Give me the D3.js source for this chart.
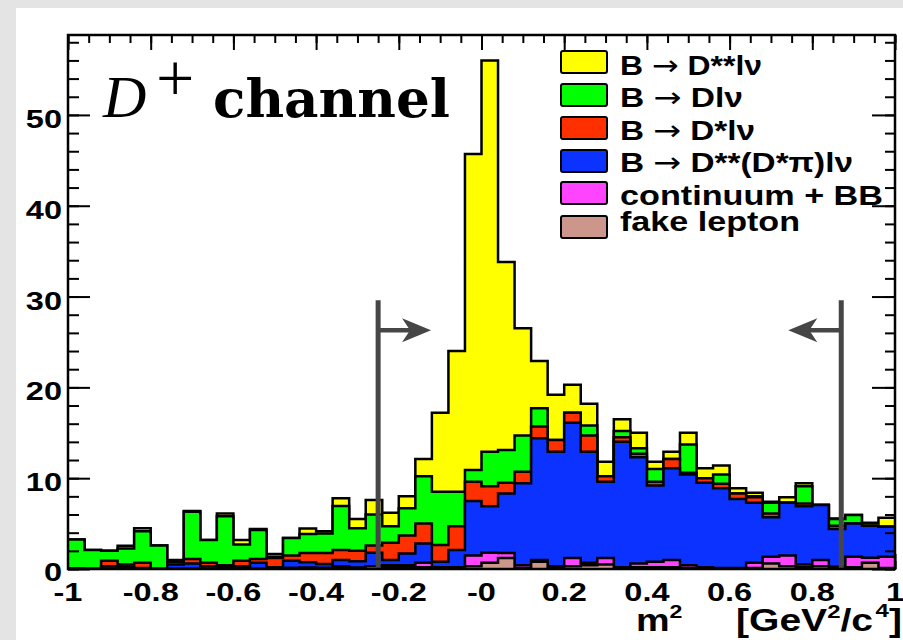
<!DOCTYPE html>
<html>
<head>
<meta charset="utf-8">
<script src="https://cdn.jsdelivr.net/npm/d3@7"></script>
<style>
  html, body { margin: 0; padding: 0; background: #fff; }
  svg { display: block; }
  .lbl { font-family: "Liberation Sans", Arial, Helvetica, sans-serif; font-weight: bold; fill: #000; }
</style>
</head>
<body>
<svg id="chart" width="903" height="640"></svg>
<script>
// m^2 histogram, D+ channel: 50 bins of width 0.04 from -1 to 1
const binLow = -1, binWidth = 0.04, nBins = 50;

// Components, bottom of the stack first
const fakeLepton = [0,0,0,0,0,0,0,0,0,0, 0.2,0,0.1,0.1,0.15,0.1,0.2,0.15,0.3,0.2,
  0.2,0.2,0.1,0.1,0.3,0.7,1.2,0.1,0.8,0.2, 0.3,0.4,0.5,0.1,0.2,0.2,0.2,0.1,0,0,
  0,0.1,0.6,0.3,0.2,0.3,0.1,0.2,0.7,0.1];
const continuumBB = [0,0,0,0,0,0,0,0,0,0, 0,0,0,0,0,0,0.1,0,0,0.2,
  0.2,0.5,0.1,0.1,1.2,1.1,0.55,0.3,0.2,0.1, 0.9,0.3,0.7,0.1,0.4,0.6,0.8,0.3,0.2,0.1,
  0.1,0.6,0.75,1.2,0.3,0.7,0.15,1.15,0.55,1.25];
const dssDstarPi = [0,0,0.3,0.25,0.1,0,0.5,0.6,0.3,0.2, 0.1,0.7,0.1,0.8,0.6,0.45,0.7,0.7,1.5,0.6,
  1.3,2.1,0.6,1.9,6.0,5.1,6.55,9.05,13.4,12.6, 14.9,12.2,8.4,13.8,11.7,8.4,10.1,10.0,9.3,8.8,
  7.6,6.6,4.35,5.8,6.4,6.06,4.15,3.65,3.5,3.3];
const dStarLnu = [0.05,0,0.6,0.25,0.6,0,0.3,0.5,0.4,0.2, 0.6,0.4,1.0,0.6,1.0,1.2,1.1,1.15,0.8,1.9,
  2.0,2.2,1.85,2.6,2.1,2.2,1.2,1.25,1.3,1.3, 1.1,1.8,0.6,0.5,0.4,0.4,1.0,0.2,0.5,0.5,
  0.6,0.6,0.4,0,0.3,0,0.35,0,0,0];
const dLnu = [3.2,2.1,1.1,1.75,3.45,2.6,0.1,5.2,2.5,5.4, 1.8,3.2,0.15,1.9,2.1,2.15,4.85,2.5,3.4,1.8,
  3.0,5.2,5.85,3.8,1.3,3.8,3.6,4.0,2.0,0, 0,1.1,0,0.7,0.6,1.4,0,3.1,0,1.0,
  0,0.1,1.2,0,1.9,0,0.75,0.95,0,0];
const dssLnu = [0,0,0,0.3,0.35,0,0.1,0.1,0,0.3, 0.5,0.1,0.3,0,0.6,0.25,0.84,1.0,1.6,1.5,
  1.3,1.9,8.7,15.5,34.8,43.1,20.7,11.8,5.2,5.0, 3.1,2.4,1.6,1.3,1.7,0.8,0.8,1.3,1.1,1.0,
  0.6,0.4,0.1,0.6,0.35,0,0.05,0,0.35,1.0];

const stackKeys   = ["fake", "cont", "dssPi", "dstar", "d", "dss"];
const legendKeys  = ["dss", "d", "dstar", "dssPi", "cont", "fake"];
const legendNames = ["B \u2192 D**l\u03bd", "B \u2192 Dl\u03bd", "B \u2192 D*l\u03bd",
                     "B \u2192 D**(D*\u03c0)l\u03bd", "continuum + BB", "fake lepton"];
const fillColors = { dss: "#ffff00", d: "#00ff00", dstar: "#ff3000", dssPi: "#0c32ff",
                     cont: "#ff44ff", fake: "#cc968b" };

const xMajorTicks = [-1, -0.8, -0.6, -0.4, -0.2, 0, 0.2, 0.4, 0.6, 0.8, 1];
const xTickLabels = ["-1", "-0.8", "-0.6", "-0.4", "-0.2", "-0", "0.2", "0.4", "0.6", "0.8", "1"];
const yMajorTicks = [0, 10, 20, 30, 40, 50];
const yMax = 58.8;

// selection cuts with arrows pointing into the signal window
const cutLow = -0.25, cutHigh = 0.87, cutTop = 29.6, arrowLevel = 26.3, arrowLen = 0.128;

// ---- layout ----
const W = 903, H = 640;
const plot = { left: 68, right: 895, top: 35, bottom: 569 };
const svg = d3.select("#chart");

svg.append("rect").attr("width", W).attr("height", H).attr("fill", "#e4e4e4");
svg.append("rect").attr("x", 16).attr("y", 8).attr("width", W - 16).attr("height", H - 8).attr("fill", "#fff");

const x = d3.scaleLinear().domain([-1, 1]).range([plot.left, plot.right]);
const y = d3.scaleLinear().domain([0, yMax]).range([plot.bottom, plot.top]);

// rows for stacking
const rows = d3.range(nBins).map(i => ({
  lo: binLow + i * binWidth,
  fake: fakeLepton[i], cont: continuumBB[i], dssPi: dssDstarPi[i],
  dstar: dStarLnu[i], d: dLnu[i], dss: dssLnu[i]
}));
const stacked = d3.stack().keys(stackKeys)(rows);

svg.append("clipPath").attr("id", "plotclip").append("rect")
  .attr("x", plot.left).attr("y", plot.top)
  .attr("width", plot.right - plot.left).attr("height", plot.bottom - plot.top);

// bottom ticks sit under the histogram
const gBottom = svg.append("g").attr("transform", `translate(0,${plot.bottom})`);
gBottom.call(d3.axisBottom(x).tickValues(d3.range(-1, 1.0001, 0.05)).tickSize(-8).tickSizeOuter(0).tickFormat(""));
gBottom.append("g").call(d3.axisBottom(x).tickValues(xMajorTicks).tickSize(-15).tickSizeOuter(0).tickFormat(""));
gBottom.selectAll("line").attr("stroke", "#000").attr("stroke-width", 2);
gBottom.selectAll(".domain").remove();

// stacked histogram: each cumulative layer filled from zero, top layer first
const hist = svg.append("g").attr("clip-path", "url(#plotclip)");
const area = d3.area().curve(d3.curveStepAfter)
  .x(d => x(d.x)).y0(y(0)).y1(d => y(d.v));
const edge = d3.line().curve(d3.curveStepAfter)
  .x(d => x(d.x)).y(d => y(d.v));

for (let k = stacked.length - 1; k >= 0; k--) {
  const layer = stacked[k];
  const pts = layer.map((d, i) => ({ x: rows[i].lo, v: d[1] }));
  pts.push({ x: rows[nBins - 1].lo + binWidth, v: layer[nBins - 1][1] });
  hist.append("path").attr("d", area(pts)).attr("fill", fillColors[layer.key]);
  hist.append("path").attr("d", edge(pts)).attr("fill", "none")
    .attr("stroke", "#000").attr("stroke-width", 2.5).attr("stroke-linejoin", "miter");
}

// cut lines and arrows
const cutColor = "#464646";
function cutMarker(xc, dir) {
  const g = svg.append("g");
  g.append("line").attr("x1", x(xc)).attr("x2", x(xc))
    .attr("y1", y(cutTop)).attr("y2", y(0))
    .attr("stroke", cutColor).attr("stroke-width", 5);
  const tipX = x(xc + dir * arrowLen), ay = y(arrowLevel);
  const headL = 29, headW = 12, notch = 8;
  g.append("line").attr("x1", x(xc)).attr("x2", tipX - dir * headL * 0.6)
    .attr("y1", ay).attr("y2", ay).attr("stroke", cutColor).attr("stroke-width", 4.5);
  g.append("path")
    .attr("d", `M${tipX},${ay} L${tipX - dir * headL},${ay - headW} L${tipX - dir * (headL - notch)},${ay} L${tipX - dir * headL},${ay + headW} Z`)
    .attr("fill", cutColor);
}
cutMarker(cutLow, 1);
cutMarker(cutHigh, -1);

// frame, left/right/top axes with inward ticks
const axisStyle = g => {
  g.selectAll("line").attr("stroke", "#000").attr("stroke-width", 2);
  g.selectAll(".domain").remove();
};
const yMinor = d3.range(0, yMax, 2);
const xMinor = d3.range(-1, 1.0001, 0.05);

const gLeft = svg.append("g").attr("transform", `translate(${plot.left},0)`);
gLeft.call(d3.axisLeft(y).tickValues(yMinor).tickSize(-11).tickSizeOuter(0).tickFormat(""));
gLeft.append("g").call(d3.axisLeft(y).tickValues(yMajorTicks).tickSize(-22).tickSizeOuter(0).tickFormat(""));
axisStyle(gLeft);

const gRight = svg.append("g").attr("transform", `translate(${plot.right},0)`);
gRight.call(d3.axisRight(y).tickValues(yMinor).tickSize(-10).tickSizeOuter(0).tickFormat(""));
gRight.append("g").call(d3.axisRight(y).tickValues(yMajorTicks).tickSize(-23).tickSizeOuter(0).tickFormat(""));
axisStyle(gRight);

const gTop = svg.append("g").attr("transform", `translate(0,${plot.top})`);
gTop.call(d3.axisTop(x).tickValues(xMinor).tickSize(-8).tickSizeOuter(0).tickFormat(""));
gTop.append("g").call(d3.axisTop(x).tickValues(xMajorTicks).tickSize(-15).tickSizeOuter(0).tickFormat(""));
axisStyle(gTop);

svg.append("rect")
  .attr("x", plot.left).attr("y", plot.top)
  .attr("width", plot.right - plot.left).attr("height", plot.bottom - plot.top)
  .attr("fill", "none").attr("stroke", "#000").attr("stroke-width", 2.5);

// tick labels
const sx = 1.3;
svg.append("g").selectAll("text").data(yMajorTicks).join("text")
  .attr("class", "lbl").attr("font-size", 25).attr("text-anchor", "end")
  .attr("transform", d => `translate(62,${y(d) + (d === 0 ? 12 : 13)}) scale(${sx},1)`)
  .text(d => d);

svg.append("g").selectAll("text").data(xMajorTicks).join("text")
  .attr("class", "lbl").attr("font-size", 25).attr("text-anchor", "middle")
  .attr("transform", d => `translate(${x(d)},601) scale(${sx},1)`)
  .text((d, i) => xTickLabels[i]);

// axis title
const t1 = svg.append("text").attr("class", "lbl").attr("font-size", 31)
  .attr("transform", "translate(636,631) scale(1.22,1)");
t1.append("tspan").text("m");
t1.append("tspan").attr("font-size", 19).attr("dy", -13).text("2");

const t2 = svg.append("text").attr("class", "lbl").attr("font-size", 31)
  .attr("transform", "translate(736,631) scale(1.26,1)");
t2.append("tspan").text("[GeV");
t2.append("tspan").attr("font-size", 19).attr("dy", -13).text("2");
t2.append("tspan").attr("dy", 13).text("/c");
t2.append("tspan").attr("font-size", 19).attr("dy", -14).attr("dx", 2).text("4");
t2.append("tspan").attr("dy", 14).text("]");

// channel label
svg.append("text").attr("x", 103).attr("y", 117)
  .attr("font-family", "'Liberation Serif', 'Times New Roman', serif")
  .attr("font-style", "italic").attr("font-size", 60).text("D");
svg.append("text").attr("x", 156).attr("y", 101)
  .attr("font-family", "'Liberation Serif', 'Times New Roman', serif")
  .attr("font-size", 68).text("+");
svg.append("text").attr("x", 213).attr("y", 117)
  .attr("font-family", "'DejaVu Serif', 'Liberation Serif', serif")
  .attr("font-weight", "bold").attr("font-size", 52)
  .attr("textLength", 237).attr("lengthAdjust", "spacingAndGlyphs")
  .text("channel");

// legend
const legBoxX = 561, legBoxW = 46, legBoxH = 22;
const legBoxY = [51, 84, 117, 150, 182, 216];
const legTextY = [75, 107, 140, 172, 205, 231];
const legTextW = [142, 123, 135, 233, 263, 180];
const leg = svg.append("g");
legendKeys.forEach((k, i) => {
  leg.append("rect").attr("x", legBoxX).attr("y", legBoxY[i])
    .attr("width", legBoxW).attr("height", legBoxH).attr("rx", 2)
    .attr("fill", fillColors[k]).attr("stroke", "#000").attr("stroke-width", 2);
  const t = leg.append("text").attr("class", "lbl").attr("x", 620).attr("y", legTextY[i])
    .attr("font-size", 28)
    .attr("textLength", legTextW[i]).attr("lengthAdjust", "spacingAndGlyphs");
  const parts = legendNames[i].split("\u2192");
  if (parts.length === 2) {
    t.append("tspan").text(parts[0]);
    t.append("tspan").attr("font-family", "'DejaVu Sans', sans-serif")
      .attr("font-weight", "normal").text("\u2192");
    t.append("tspan").text(parts[1]);
  } else {
    t.text(legendNames[i]);
  }
});
</script>
</body>
</html>
